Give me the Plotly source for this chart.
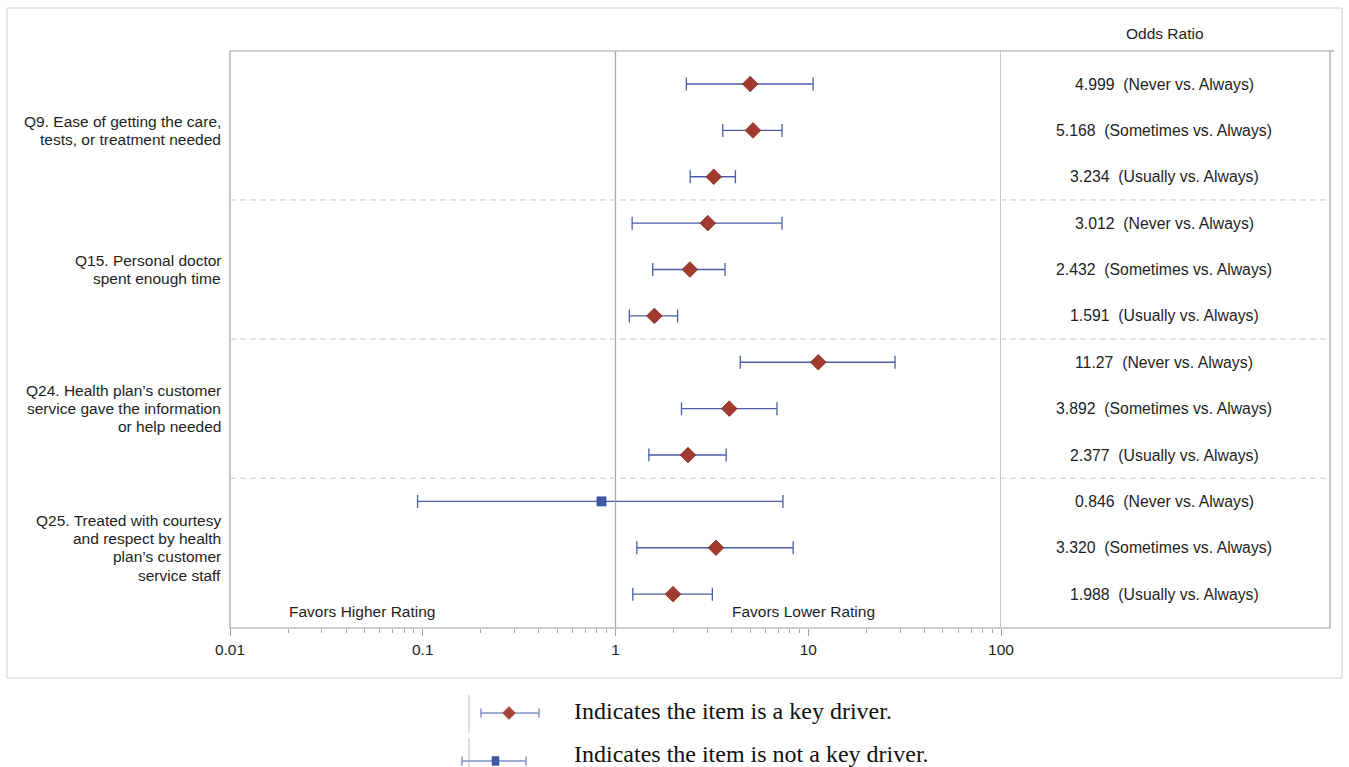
import plotly.graph_objects as go

W, H = 1349, 767

# ---------------- data ----------------
group_labels = [
    ["Q9. Ease of getting the care,", "tests, or treatment needed"],
    ["Q15. Personal doctor", "spent enough time"],
    ["Q24. Health plan’s customer", "service gave the information", "or help needed"],
    ["Q25. Treated with courtesy", "and respect by health", "plan’s customer", "service staff"],
]
group_mid_row = [2, 5, 8, 11]
rows = list(range(1, 13))
comparisons = ["Never vs. Always", "Sometimes vs. Always", "Usually vs. Always"] * 4
odds_ratio = [4.999, 5.168, 3.234, 3.012, 2.432, 1.591, 11.27, 3.892, 2.377, 0.846, 3.320, 1.988]
odds_text = ["4.999", "5.168", "3.234", "3.012", "2.432", "1.591",
             "11.27", "3.892", "2.377", "0.846", "3.320", "1.988"]
ci_lower = [2.33, 3.60, 2.44, 1.22, 1.56, 1.18, 4.44, 2.20, 1.49, 0.094, 1.29, 1.23]
ci_upper = [10.6, 7.31, 4.19, 7.31, 3.70, 2.10, 28.2, 6.88, 3.75, 7.39, 8.35, 3.18]
key_driver = [True, True, True, True, True, True, True, True, True, False, True, True]
x_ticks = [0.01, 0.1, 1, 10, 100]
x_tick_labels = ["0.01", "0.1", "1", "10", "100"]
separator_rows = [3.5, 6.5, 9.5]
legend_texts = ["Indicates the item is a key driver.", "Indicates the item is not a key driver."]

# ---------------- layout helpers (pixel -> paper) ----------------
def px(x):
    return x / W

def py(y):
    return 1 - y / H

PL, PR, PT, PB = 230, 1330, 51, 628   # frame of the plot panel
AX_R = 1001                            # right end of the log axis (x = 100)
ROW_PX = (PB - PT) / (12.73 - 0.288)   # pixels per row

RED = "#A33A2F"
RED_EDGE = "#7E2B23"
BLUE = "#3E58A3"
ERR = "#4A5EA8"
FONT = "Liberation Sans, Arial, sans-serif"
FS = 15.5
TXT = "#1e1e1e"

fig = go.Figure()

for flag, sym, col, edge, size in [(True, "diamond", RED, RED_EDGE, 12),
                                   (False, "square", BLUE, "#2E4690", 9)]:
    idx = [i for i in range(12) if key_driver[i] == flag]
    fig.add_trace(go.Scatter(
        x=[odds_ratio[i] for i in idx],
        y=[rows[i] for i in idx],
        mode="markers",
        marker=dict(symbol=sym, size=size, color=col, line=dict(color=edge, width=0.8)),
        error_x=dict(type="data", symmetric=False,
                     array=[ci_upper[i] - odds_ratio[i] for i in idx],
                     arrayminus=[odds_ratio[i] - ci_lower[i] for i in idx],
                     color=ERR, thickness=1.3, width=6.5),
        showlegend=False,
        hoverinfo="x+y",
    ))

minor_vals = [m * 10 ** e for e in range(-2, 2) for m in range(2, 10)]

fig.update_layout(
    width=W, height=H, autosize=False, showlegend=False,
    margin=dict(l=0, r=0, t=0, b=0, pad=0, autoexpand=False),
    paper_bgcolor="white", plot_bgcolor="rgba(0,0,0,0)",
    font=dict(family=FONT, size=FS, color=TXT),
    xaxis=dict(type="log", range=[-2, 2], domain=[px(PL), px(AX_R)], automargin=False,
               tickvals=x_ticks, ticktext=x_tick_labels,
               ticks="outside", ticklen=7, tickcolor="#a0a0a0", tickwidth=1,
               minor=dict(tickvals=minor_vals, ticks="outside", ticklen=4,
                          tickcolor="#a8a8a8", tickwidth=1, showgrid=False),
               showgrid=False, zeroline=False, showline=False,
               tickfont=dict(family=FONT, size=FS, color=TXT)),
    yaxis=dict(range=[12.73, 0.288], domain=[py(PB), py(PT)], automargin=False,
               showticklabels=False, showgrid=False, zeroline=False,
               showline=False, ticks=""),
)

shapes = []
shapes.append(dict(type="rect", xref="paper", yref="paper",
                   x0=px(7), x1=px(1342), y0=py(678), y1=py(8),
                   line=dict(color="#cfcfcf", width=1)))
shapes.append(dict(type="rect", xref="paper", yref="paper",
                   x0=px(PL), x1=px(PR), y0=py(PB), y1=py(PT),
                   line=dict(color="#a0a0a0", width=1.2)))
shapes.append(dict(type="line", xref="paper", yref="paper",
                   x0=px(PR), x1=px(1334), y0=py(PT), y1=py(PT),
                   line=dict(color="#a0a0a0", width=1.2)))
for xv in [1, 100]:
    shapes.append(dict(type="line", xref="x", yref="paper",
                       x0=xv, x1=xv, y0=py(PB), y1=py(PT),
                       line=dict(color="#a8a8a8", width=1.3)))
for r in separator_rows:
    shapes.append(dict(type="line", xref="paper", yref="y",
                       x0=px(PL), x1=px(PR), y0=r, y1=r,
                       line=dict(color="#c8c8c8", width=1, dash="6px,4px")))

# legend icons
LEG_ERR = "#8593C8"
def whisker(x0, x1, y, cap):
    return [
        dict(type="line", xref="paper", yref="paper", x0=px(x0), x1=px(x1), y0=py(y), y1=py(y),
             line=dict(color=LEG_ERR, width=1.5)),
        dict(type="line", xref="paper", yref="paper", x0=px(x0), x1=px(x0), y0=py(y - cap), y1=py(y + cap),
             line=dict(color=LEG_ERR, width=1.5)),
        dict(type="line", xref="paper", yref="paper", x0=px(x1), x1=px(x1), y0=py(y - cap), y1=py(y + cap),
             line=dict(color=LEG_ERR, width=1.5)),
    ]

shapes.append(dict(type="line", xref="paper", yref="paper", x0=px(469), x1=px(469),
                   y0=py(733), y1=py(695), line=dict(color="#cccccc", width=1.2)))
shapes += whisker(481, 539, 713, 4.5)
dx, dy, cx, cy = 6.5, 6.5, 509, 713
shapes.append(dict(type="path", xref="paper", yref="paper",
                   path=f"M {px(cx-dx)},{py(cy)} L {px(cx)},{py(cy-dy)} L {px(cx+dx)},{py(cy)} L {px(cx)},{py(cy+dy)} Z",
                   fillcolor="#A6433A", line=dict(color="#A6433A", width=0.5)))

shapes.append(dict(type="line", xref="paper", yref="paper", x0=px(469), x1=px(469),
                   y0=py(767), y1=py(738), line=dict(color="#cccccc", width=1.2)))
shapes += whisker(462, 526, 761, 4.5)
shapes.append(dict(type="rect", xref="paper", yref="paper",
                   x0=px(492), x1=px(499), y0=py(765.5), y1=py(756.5),
                   fillcolor="#3E58A3", line=dict(color="#3E58A3", width=0.5)))

fig.update_layout(shapes=shapes)

ann = []
ann.append(dict(text="Odds Ratio", xref="paper", yref="paper", x=px(1165), y=py(33),
                showarrow=False, xanchor="center", yanchor="middle",
                font=dict(family=FONT, size=FS, color=TXT)))
for r, t, c in zip(rows, odds_text, comparisons):
    ann.append(dict(text=f"{t}&nbsp; ({c})", xref="paper", yref="y", x=px(1164), y=r,
                    showarrow=False, xanchor="center", yanchor="middle",
                    font=dict(family=FONT, size=15.8, color=TXT)))
LINE_PX = 18.3
for lines, r in zip(group_labels, group_mid_row):
    n = len(lines)
    for j, line in enumerate(lines):
        ann.append(dict(text=line, xref="paper", yref="y", x=px(223),
                        y=r + (j - (n - 1) / 2) * LINE_PX / ROW_PX,
                        showarrow=False, xanchor="right", yanchor="middle", align="right",
                        font=dict(family=FONT, size=FS, color=TXT)))
ann.append(dict(text="Favors Higher Rating", xref="paper", yref="paper", x=px(362), y=py(611),
                showarrow=False, xanchor="center", yanchor="middle",
                font=dict(family=FONT, size=FS, color=TXT)))
ann.append(dict(text="Favors Lower Rating", xref="paper", yref="paper", x=px(803), y=py(611),
                showarrow=False, xanchor="center", yanchor="middle",
                font=dict(family=FONT, size=FS, color=TXT)))
SERIF = "Liberation Serif, Times New Roman, serif"
for t, yy in zip(legend_texts, [711, 754]):
    ann.append(dict(text=t, xref="paper", yref="paper",
                    x=px(572), y=py(yy), showarrow=False, xanchor="left", yanchor="middle",
                    font=dict(family=SERIF, size=24, color="#111111")))
fig.update_layout(annotations=ann)

fig.write_html(
    "out.html",
    config={"responsive": False, "displayModeBar": False},
    default_width="1349px", default_height="767px",
    post_script=("document.body.style.margin='0';"
                 "document.body.style.overflow='hidden';"
                 "document.documentElement.style.overflow='hidden';"),
)
